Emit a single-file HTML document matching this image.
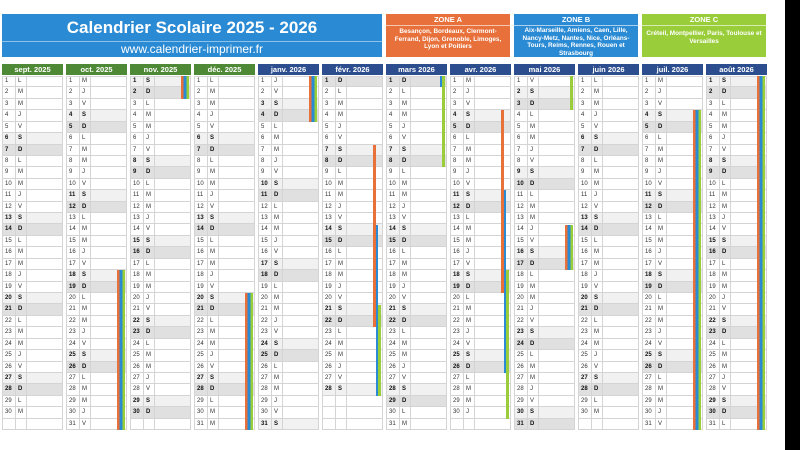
<!DOCTYPE html>
<html><head><meta charset="utf-8"><style>
body{margin:0;width:800px;height:450px;background:#fff;position:relative;overflow:hidden;font-family:"Liberation Sans",sans-serif}
.blk{position:absolute;left:785px;top:0;width:15px;height:450px;background:#000}
.tt{position:absolute;left:2px;top:14px;width:380px;height:43px;background:#2a8ad4;color:#fff;text-align:center}
.tt .ti{font:bold 17px/27px "Liberation Sans",sans-serif;border-bottom:1px solid #8fc2ea;height:27px}
.tt .u{font:12px/15px "Liberation Sans",sans-serif}
.z{position:absolute;top:14px;width:124px;height:43px;color:#fff;text-align:center}
.z .h{font:bold 7.5px/11px "Liberation Sans",sans-serif;border-bottom:1px solid rgba(255,255,255,.6)}
.z .t{font:bold 6.4px/7.6px "Liberation Sans",sans-serif;padding:2px 1px 0}
.c{position:absolute;top:64px;width:61px}
.c h3{height:11px;margin:0 0 1px;background:#4e8a35;color:#fff;font:bold 7.5px/11px "Liberation Sans",sans-serif;text-align:center}
.c.j h3{background:#2d4e8e}
.c p{margin:0;height:10.43px;border:1px solid #d4d4d4;border-top:none;font:6px/10.43px "Liberation Sans",sans-serif;color:#333;white-space:nowrap;overflow:hidden}
.c p:first-of-type{border-top:1px solid #d4d4d4;height:9.43px;line-height:9.43px}
.c p i{display:inline-block;font-style:normal;width:13px;padding-left:2px;border-right:1px solid #d4d4d4;height:100%;box-sizing:border-box;vertical-align:top}
.c p i+i{width:11px}
.c p.s{background:#f1f1f1;font-weight:bold;color:#111}
.c p.d{background:#e0e0e0;font-weight:bold;color:#111}
.c s{position:absolute;width:2.6px;text-decoration:none}
.o{right:7.5px;background:#e8703a}.b{right:4.8px;background:#2a8ad4}.g{right:2.1px;background:#9acd3a}
.c s.a{right:2.1px;width:8px;background:linear-gradient(90deg,#e8703a 0 33%,#2a8ad4 33% 66%,#9acd3a 66%)}
</style></head><body>
<div class="blk"></div>
<div class="tt"><div class="ti">Calendrier Scolaire 2025 - 2026</div><div class="u">www.calendrier-imprimer.fr</div></div>
<div class="z" style="left:386px;background:#e8703a"><div class="h">ZONE A</div><div class="t">Besançon, Bordeaux, Clermont-Ferrand, Dijon, Grenoble, Limoges, Lyon et Poitiers</div></div>
<div class="z" style="left:514px;background:#2a8ad4"><div class="h">ZONE B</div><div class="t" style="padding-top:1px">Aix-Marseille, Amiens, Caen, Lille, Nancy-Metz, Nantes, Nice, Orléans-Tours, Reims, Rennes, Rouen et Strasbourg</div></div>
<div class="z" style="left:642px;background:#9acd3a"><div class="h">ZONE C</div><div class="t" style="padding-top:4px">Créteil, Montpellier, Paris, Toulouse et Versailles</div></div>

<div class="c" style="left:2px"><h3>sept. 2025</h3>
<p><i>1</i><i>L</i></p><p><i>2</i><i>M</i></p><p><i>3</i><i>M</i></p><p><i>4</i><i>J</i></p><p><i>5</i><i>V</i></p><p class=s><i>6</i><i>S</i></p><p class=d><i>7</i><i>D</i></p><p><i>8</i><i>L</i></p><p><i>9</i><i>M</i></p><p><i>10</i><i>M</i></p><p><i>11</i><i>J</i></p><p><i>12</i><i>V</i></p><p class=s><i>13</i><i>S</i></p><p class=d><i>14</i><i>D</i></p><p><i>15</i><i>L</i></p><p><i>16</i><i>M</i></p><p><i>17</i><i>M</i></p><p><i>18</i><i>J</i></p><p><i>19</i><i>V</i></p><p class=s><i>20</i><i>S</i></p><p class=d><i>21</i><i>D</i></p><p><i>22</i><i>L</i></p><p><i>23</i><i>M</i></p><p><i>24</i><i>M</i></p><p><i>25</i><i>J</i></p><p><i>26</i><i>V</i></p><p class=s><i>27</i><i>S</i></p><p class=d><i>28</i><i>D</i></p><p><i>29</i><i>L</i></p><p><i>30</i><i>M</i></p><p><i></i><i></i></p>
</div>

<div class="c" style="left:66px"><h3>oct. 2025</h3>
<p><i>1</i><i>M</i></p><p><i>2</i><i>J</i></p><p><i>3</i><i>V</i></p><p class=s><i>4</i><i>S</i></p><p class=d><i>5</i><i>D</i></p><p><i>6</i><i>L</i></p><p><i>7</i><i>M</i></p><p><i>8</i><i>M</i></p><p><i>9</i><i>J</i></p><p><i>10</i><i>V</i></p><p class=s><i>11</i><i>S</i></p><p class=d><i>12</i><i>D</i></p><p><i>13</i><i>L</i></p><p><i>14</i><i>M</i></p><p><i>15</i><i>M</i></p><p><i>16</i><i>J</i></p><p><i>17</i><i>V</i></p><p class=s><i>18</i><i>S</i></p><p class=d><i>19</i><i>D</i></p><p><i>20</i><i>L</i></p><p><i>21</i><i>M</i></p><p><i>22</i><i>M</i></p><p><i>23</i><i>J</i></p><p><i>24</i><i>V</i></p><p class=s><i>25</i><i>S</i></p><p class=d><i>26</i><i>D</i></p><p><i>27</i><i>L</i></p><p><i>28</i><i>M</i></p><p><i>29</i><i>M</i></p><p><i>30</i><i>J</i></p><p><i>31</i><i>V</i></p>
<s class=a style="top:206.3px;height:160px"></s>
</div>

<div class="c" style="left:130px"><h3>nov. 2025</h3>
<p class=s><i>1</i><i>S</i></p><p class=d><i>2</i><i>D</i></p><p><i>3</i><i>L</i></p><p><i>4</i><i>M</i></p><p><i>5</i><i>M</i></p><p><i>6</i><i>J</i></p><p><i>7</i><i>V</i></p><p class=s><i>8</i><i>S</i></p><p class=d><i>9</i><i>D</i></p><p><i>10</i><i>L</i></p><p><i>11</i><i>M</i></p><p><i>12</i><i>M</i></p><p><i>13</i><i>J</i></p><p><i>14</i><i>V</i></p><p class=s><i>15</i><i>S</i></p><p class=d><i>16</i><i>D</i></p><p><i>17</i><i>L</i></p><p><i>18</i><i>M</i></p><p><i>19</i><i>M</i></p><p><i>20</i><i>J</i></p><p><i>21</i><i>V</i></p><p class=s><i>22</i><i>S</i></p><p class=d><i>23</i><i>D</i></p><p><i>24</i><i>L</i></p><p><i>25</i><i>M</i></p><p><i>26</i><i>M</i></p><p><i>27</i><i>J</i></p><p><i>28</i><i>V</i></p><p class=s><i>29</i><i>S</i></p><p class=d><i>30</i><i>D</i></p><p><i></i><i></i></p>
<s class=a style="top:12px;height:22.9px"></s>
</div>

<div class="c" style="left:194px"><h3>déc. 2025</h3>
<p><i>1</i><i>L</i></p><p><i>2</i><i>M</i></p><p><i>3</i><i>M</i></p><p><i>4</i><i>J</i></p><p><i>5</i><i>V</i></p><p class=s><i>6</i><i>S</i></p><p class=d><i>7</i><i>D</i></p><p><i>8</i><i>L</i></p><p><i>9</i><i>M</i></p><p><i>10</i><i>M</i></p><p><i>11</i><i>J</i></p><p><i>12</i><i>V</i></p><p class=s><i>13</i><i>S</i></p><p class=d><i>14</i><i>D</i></p><p><i>15</i><i>L</i></p><p><i>16</i><i>M</i></p><p><i>17</i><i>M</i></p><p><i>18</i><i>J</i></p><p><i>19</i><i>V</i></p><p class=s><i>20</i><i>S</i></p><p class=d><i>21</i><i>D</i></p><p><i>22</i><i>L</i></p><p><i>23</i><i>M</i></p><p><i>24</i><i>M</i></p><p><i>25</i><i>J</i></p><p><i>26</i><i>V</i></p><p class=s><i>27</i><i>S</i></p><p class=d><i>28</i><i>D</i></p><p><i>29</i><i>L</i></p><p><i>30</i><i>M</i></p><p><i>31</i><i>M</i></p>
<s class=a style="top:229.2px;height:137.2px"></s>
</div>

<div class="c j" style="left:258px"><h3>janv. 2026</h3>
<p><i>1</i><i>J</i></p><p><i>2</i><i>V</i></p><p class=s><i>3</i><i>S</i></p><p class=d><i>4</i><i>D</i></p><p><i>5</i><i>L</i></p><p><i>6</i><i>M</i></p><p><i>7</i><i>M</i></p><p><i>8</i><i>J</i></p><p><i>9</i><i>V</i></p><p class=s><i>10</i><i>S</i></p><p class=d><i>11</i><i>D</i></p><p><i>12</i><i>L</i></p><p><i>13</i><i>M</i></p><p><i>14</i><i>M</i></p><p><i>15</i><i>J</i></p><p><i>16</i><i>V</i></p><p class=s><i>17</i><i>S</i></p><p class=d><i>18</i><i>D</i></p><p><i>19</i><i>L</i></p><p><i>20</i><i>M</i></p><p><i>21</i><i>M</i></p><p><i>22</i><i>J</i></p><p><i>23</i><i>V</i></p><p class=s><i>24</i><i>S</i></p><p class=d><i>25</i><i>D</i></p><p><i>26</i><i>L</i></p><p><i>27</i><i>M</i></p><p><i>28</i><i>M</i></p><p><i>29</i><i>J</i></p><p><i>30</i><i>V</i></p><p class=s><i>31</i><i>S</i></p>
<s class=a style="top:12px;height:45.7px"></s>
</div>

<div class="c j" style="left:322px"><h3>févr. 2026</h3>
<p class=d><i>1</i><i>D</i></p><p><i>2</i><i>L</i></p><p><i>3</i><i>M</i></p><p><i>4</i><i>M</i></p><p><i>5</i><i>J</i></p><p><i>6</i><i>V</i></p><p class=s><i>7</i><i>S</i></p><p class=d><i>8</i><i>D</i></p><p><i>9</i><i>L</i></p><p><i>10</i><i>M</i></p><p><i>11</i><i>M</i></p><p><i>12</i><i>J</i></p><p><i>13</i><i>V</i></p><p class=s><i>14</i><i>S</i></p><p class=d><i>15</i><i>D</i></p><p><i>16</i><i>L</i></p><p><i>17</i><i>M</i></p><p><i>18</i><i>M</i></p><p><i>19</i><i>J</i></p><p><i>20</i><i>V</i></p><p class=s><i>21</i><i>S</i></p><p class=d><i>22</i><i>D</i></p><p><i>23</i><i>L</i></p><p><i>24</i><i>M</i></p><p><i>25</i><i>M</i></p><p><i>26</i><i>J</i></p><p><i>27</i><i>V</i></p><p class=s><i>28</i><i>S</i></p><p><i></i><i></i></p><p><i></i><i></i></p><p><i></i><i></i></p>
<s class=o style="top:80.6px;height:182.9px"></s><s class=b style="top:160.6px;height:171.5px"></s><s class=g style="top:240.6px;height:91.4px"></s>
</div>

<div class="c j" style="left:386px"><h3>mars 2026</h3>
<p class=d><i>1</i><i>D</i></p><p><i>2</i><i>L</i></p><p><i>3</i><i>M</i></p><p><i>4</i><i>M</i></p><p><i>5</i><i>J</i></p><p><i>6</i><i>V</i></p><p class=s><i>7</i><i>S</i></p><p class=d><i>8</i><i>D</i></p><p><i>9</i><i>L</i></p><p><i>10</i><i>M</i></p><p><i>11</i><i>M</i></p><p><i>12</i><i>J</i></p><p><i>13</i><i>V</i></p><p class=s><i>14</i><i>S</i></p><p class=d><i>15</i><i>D</i></p><p><i>16</i><i>L</i></p><p><i>17</i><i>M</i></p><p><i>18</i><i>M</i></p><p><i>19</i><i>J</i></p><p><i>20</i><i>V</i></p><p class=s><i>21</i><i>S</i></p><p class=d><i>22</i><i>D</i></p><p><i>23</i><i>L</i></p><p><i>24</i><i>M</i></p><p><i>25</i><i>M</i></p><p><i>26</i><i>J</i></p><p><i>27</i><i>V</i></p><p class=s><i>28</i><i>S</i></p><p class=d><i>29</i><i>D</i></p><p><i>30</i><i>L</i></p><p><i>31</i><i>M</i></p>
<s class=b style="top:12px;height:11.4px"></s><s class=g style="top:12px;height:91.4px"></s>
</div>

<div class="c j" style="left:450px"><h3>avr. 2026</h3>
<p><i>1</i><i>M</i></p><p><i>2</i><i>J</i></p><p><i>3</i><i>V</i></p><p class=s><i>4</i><i>S</i></p><p class=d><i>5</i><i>D</i></p><p><i>6</i><i>L</i></p><p><i>7</i><i>M</i></p><p><i>8</i><i>M</i></p><p><i>9</i><i>J</i></p><p><i>10</i><i>V</i></p><p class=s><i>11</i><i>S</i></p><p class=d><i>12</i><i>D</i></p><p><i>13</i><i>L</i></p><p><i>14</i><i>M</i></p><p><i>15</i><i>M</i></p><p><i>16</i><i>J</i></p><p><i>17</i><i>V</i></p><p class=s><i>18</i><i>S</i></p><p class=d><i>19</i><i>D</i></p><p><i>20</i><i>L</i></p><p><i>21</i><i>M</i></p><p><i>22</i><i>M</i></p><p><i>23</i><i>J</i></p><p><i>24</i><i>V</i></p><p class=s><i>25</i><i>S</i></p><p class=d><i>26</i><i>D</i></p><p><i>27</i><i>L</i></p><p><i>28</i><i>M</i></p><p><i>29</i><i>M</i></p><p><i>30</i><i>J</i></p><p><i></i><i></i></p>
<s class=o style="top:46.3px;height:182.9px"></s><s class=b style="top:126.3px;height:182.9px"></s><s class=g style="top:206.3px;height:148.6px"></s>
</div>

<div class="c j" style="left:514px"><h3>mai 2026</h3>
<p><i>1</i><i>V</i></p><p class=s><i>2</i><i>S</i></p><p class=d><i>3</i><i>D</i></p><p><i>4</i><i>L</i></p><p><i>5</i><i>M</i></p><p><i>6</i><i>M</i></p><p><i>7</i><i>J</i></p><p><i>8</i><i>V</i></p><p class=s><i>9</i><i>S</i></p><p class=d><i>10</i><i>D</i></p><p><i>11</i><i>L</i></p><p><i>12</i><i>M</i></p><p><i>13</i><i>M</i></p><p><i>14</i><i>J</i></p><p><i>15</i><i>V</i></p><p class=s><i>16</i><i>S</i></p><p class=d><i>17</i><i>D</i></p><p><i>18</i><i>L</i></p><p><i>19</i><i>M</i></p><p><i>20</i><i>M</i></p><p><i>21</i><i>J</i></p><p><i>22</i><i>V</i></p><p class=s><i>23</i><i>S</i></p><p class=d><i>24</i><i>D</i></p><p><i>25</i><i>L</i></p><p><i>26</i><i>M</i></p><p><i>27</i><i>M</i></p><p><i>28</i><i>J</i></p><p><i>29</i><i>V</i></p><p class=s><i>30</i><i>S</i></p><p class=d><i>31</i><i>D</i></p>
<s class=g style="top:12px;height:34.3px"></s><s class=a style="top:160.6px;height:45.7px"></s>
</div>

<div class="c j" style="left:578px"><h3>juin 2026</h3>
<p><i>1</i><i>L</i></p><p><i>2</i><i>M</i></p><p><i>3</i><i>M</i></p><p><i>4</i><i>J</i></p><p><i>5</i><i>V</i></p><p class=s><i>6</i><i>S</i></p><p class=d><i>7</i><i>D</i></p><p><i>8</i><i>L</i></p><p><i>9</i><i>M</i></p><p><i>10</i><i>M</i></p><p><i>11</i><i>J</i></p><p><i>12</i><i>V</i></p><p class=s><i>13</i><i>S</i></p><p class=d><i>14</i><i>D</i></p><p><i>15</i><i>L</i></p><p><i>16</i><i>M</i></p><p><i>17</i><i>M</i></p><p><i>18</i><i>J</i></p><p><i>19</i><i>V</i></p><p class=s><i>20</i><i>S</i></p><p class=d><i>21</i><i>D</i></p><p><i>22</i><i>L</i></p><p><i>23</i><i>M</i></p><p><i>24</i><i>M</i></p><p><i>25</i><i>J</i></p><p><i>26</i><i>V</i></p><p class=s><i>27</i><i>S</i></p><p class=d><i>28</i><i>D</i></p><p><i>29</i><i>L</i></p><p><i>30</i><i>M</i></p><p><i></i><i></i></p>
</div>

<div class="c j" style="left:642px"><h3>juil. 2026</h3>
<p><i>1</i><i>M</i></p><p><i>2</i><i>J</i></p><p><i>3</i><i>V</i></p><p class=s><i>4</i><i>S</i></p><p class=d><i>5</i><i>D</i></p><p><i>6</i><i>L</i></p><p><i>7</i><i>M</i></p><p><i>8</i><i>M</i></p><p><i>9</i><i>J</i></p><p><i>10</i><i>V</i></p><p class=s><i>11</i><i>S</i></p><p class=d><i>12</i><i>D</i></p><p><i>13</i><i>L</i></p><p><i>14</i><i>M</i></p><p><i>15</i><i>M</i></p><p><i>16</i><i>J</i></p><p><i>17</i><i>V</i></p><p class=s><i>18</i><i>S</i></p><p class=d><i>19</i><i>D</i></p><p><i>20</i><i>L</i></p><p><i>21</i><i>M</i></p><p><i>22</i><i>M</i></p><p><i>23</i><i>J</i></p><p><i>24</i><i>V</i></p><p class=s><i>25</i><i>S</i></p><p class=d><i>26</i><i>D</i></p><p><i>27</i><i>L</i></p><p><i>28</i><i>M</i></p><p><i>29</i><i>M</i></p><p><i>30</i><i>J</i></p><p><i>31</i><i>V</i></p>
<s class=a style="top:46.3px;height:320px"></s>
</div>

<div class="c j" style="left:706px"><h3>août 2026</h3>
<p class=s><i>1</i><i>S</i></p><p class=d><i>2</i><i>D</i></p><p><i>3</i><i>L</i></p><p><i>4</i><i>M</i></p><p><i>5</i><i>M</i></p><p><i>6</i><i>J</i></p><p><i>7</i><i>V</i></p><p class=s><i>8</i><i>S</i></p><p class=d><i>9</i><i>D</i></p><p><i>10</i><i>L</i></p><p><i>11</i><i>M</i></p><p><i>12</i><i>M</i></p><p><i>13</i><i>J</i></p><p><i>14</i><i>V</i></p><p class=s><i>15</i><i>S</i></p><p class=d><i>16</i><i>D</i></p><p><i>17</i><i>L</i></p><p><i>18</i><i>M</i></p><p><i>19</i><i>M</i></p><p><i>20</i><i>J</i></p><p><i>21</i><i>V</i></p><p class=s><i>22</i><i>S</i></p><p class=d><i>23</i><i>D</i></p><p><i>24</i><i>L</i></p><p><i>25</i><i>M</i></p><p><i>26</i><i>M</i></p><p><i>27</i><i>J</i></p><p><i>28</i><i>V</i></p><p class=s><i>29</i><i>S</i></p><p class=d><i>30</i><i>D</i></p><p><i>31</i><i>L</i></p>
<s class=a style="top:12px;height:354.3px"></s>
</div>
</body></html>
